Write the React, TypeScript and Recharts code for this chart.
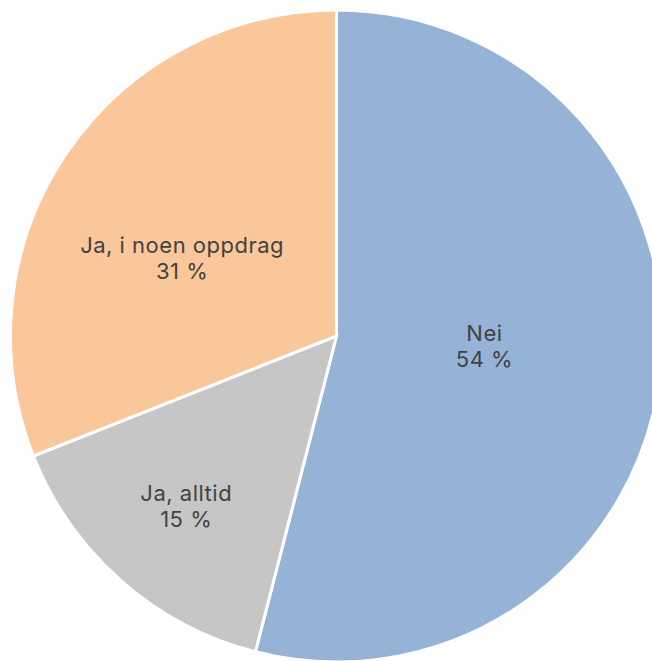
import { PieChart, Pie, Cell } from "recharts";

const categories = ["Nei", "Ja, alltid", "Ja, i noen oppdrag"];
const shares = [54, 15, 31];
const colors = ["#95b3d7", "#c6c6c6", "#f9c79a"];

// label placement: distance from centre (share of radius) and angle nudge in degrees
const labelRadius = [0.455, 0.697, 0.531];
const labelAngleShift = [3.3, 0, 7.3];

const RAD = Math.PI / 180;

const data = categories.map((name, i) => ({ name, value: shares[i] }));

const renderLabel = (props: any) => {
  const { cx, cy, midAngle, outerRadius, index, payload } = props;
  const r = outerRadius * labelRadius[index];
  const a = (midAngle + labelAngleShift[index]) * RAD;
  const x = cx + r * Math.cos(-a);
  const y = cy + r * Math.sin(-a);
  return (
    <text
      x={x}
      y={y}
      textAnchor="middle"
      fill="#424242"
      fontSize={22}
      letterSpacing={0.5}
      fontFamily="Inter, sans-serif"
    >
      <tspan x={x} dy={-5}>
        {payload.name}
      </tspan>
      <tspan x={x} dy={26}>
        {`${payload.value} %`}
      </tspan>
    </text>
  );
};

export default function App() {
  return (
    <div style={{ width: 652, height: 661, overflow: "hidden" }}>
      <style>{"body{margin:0;background:#fff}"}</style>
      <PieChart width={652} height={661}>
        <Pie
          data={data}
          dataKey="value"
          nameKey="name"
          cx={331.5}
          cy={331}
          outerRadius={326}
          startAngle={90}
          endAngle={-270}
          stroke="#ffffff"
          strokeWidth={3}
          label={renderLabel}
          labelLine={false}
          isAnimationActive={false}
        >
          {data.map((d, i) => (
            <Cell key={d.name} fill={colors[i]} />
          ))}
        </Pie>
      </PieChart>
    </div>
  );
}
